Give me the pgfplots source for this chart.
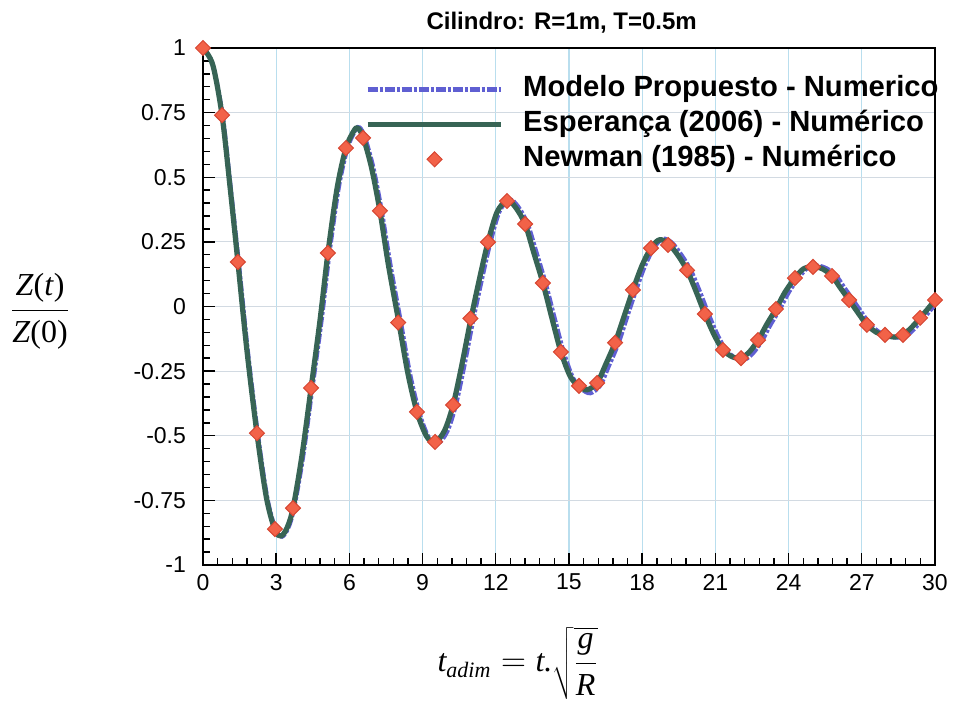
\documentclass[border=0pt]{standalone}
\usepackage{pgfplots}
\pgfplotsset{compat=1.18}
\usepackage{fontspec}
\setmainfont{Liberation Sans}
\newfontfamily\tnr{Liberation Serif}
\definecolor{greenline}{RGB}{55,100,85}
\definecolor{blueline}{RGB}{95,95,210}
\definecolor{mkfill}{RGB}{242,98,72}
\definecolor{mkdraw}{RGB}{215,70,50}
\definecolor{xgrid}{RGB}{185,222,238}
\definecolor{ygrid}{RGB}{210,218,226}
\pgfplotsset{
  lineleg/.style={legend image code/.code={\draw[##1] (0pt,0pt) -- (66.5pt,0pt);}},
  markleg/.style={legend image code/.code={\path (0pt,0pt) (66.5pt,0pt); \draw[##1] plot coordinates {(33.5pt,0pt)};}},
}
\begin{document}
\begin{tikzpicture}
\begin{axis}[
  width=366pt, height=258.5pt, scale only axis,
  xmin=0, xmax=30, ymin=-1, ymax=1,
  xtick={0,3,...,30},
  xticklabels={0,3,6,9,12,15,18,21,24,27,30},
  ytick={-1,-0.75,-0.5,-0.25,0,0.25,0.5,0.75,1},
  yticklabels={-1,-0.75,-0.5,-0.25,0,0.25,0.5,0.75,1},
  minor x tick num=4, minor y tick num=4,
  tick pos=left, tick align=inside,
  major tick length=6pt, minor tick length=3.5pt,
  every tick/.style={black, line width=0.7pt},
  axis line style={line width=0.9pt},
  grid=major,
  x grid style={xgrid, line width=0.6pt},
  y grid style={ygrid, line width=0.6pt},
  ticklabel style={font=\fontsize{11.5}{13}\selectfont},
  yticklabel style={xshift=-5pt},
  xticklabel style={yshift=-1pt},
  clip mode=individual,
  title={Cilindro: R=1m, T=0.5m},
  every axis title shift=0pt,
  title style={at={(axis description cs:0.49,1)}, anchor=base, yshift=9pt, font=\fontsize{12}{14}\selectfont\bfseries},
  ylabel={\tnr\fontsize{16}{19}\selectfont$\displaystyle\frac{\hbox{\itshape Z\/\upshape(\itshape t\/\upshape)}}{\hbox{\itshape Z\/\upshape(0)}}$},
  ylabel style={rotate=-90, at={(axis description cs:0,0.49)}, anchor=center, xshift=-81.5pt},
  xlabel={\tnr\fontsize{16}{19}\selectfont$\hbox{\itshape t}_{\hbox{\fontsize{11}{12}\selectfont\itshape adim}}=\hbox{\itshape t.}\sqrt{\displaystyle\frac{\hbox{\itshape g}}{\hbox{\itshape R}}}$},
  xlabel style={at={(axis description cs:0.43,0)}, anchor=base, yshift=-53.5pt},
  legend cell align=left,
  legend style={draw=none, fill=none, inner sep=0pt, outer sep=0pt,
    at={(axis cs:6.64,0.895)}, anchor=north west,
    row sep=3.3pt, column sep=10pt,
    font=\fontsize{14.6}{17}\selectfont\bfseries,
    nodes={inner sep=0pt, text height=10.7pt, text depth=3.5pt}},
]
\addplot[blueline, line width=2.2pt, smooth, dash pattern=on 5pt off 1pt on 1.5pt off 1pt, lineleg] coordinates {
(0,1.0) (0.4,0.935) (0.8,0.74) (1.12,0.47) (1.46,0.172) (1.83,-0.17) (2.24,-0.49)
(2.63,-0.74) (2.98,-0.865) (3.24,-0.89) (3.49,-0.857) (3.73,-0.78) (4.1,-0.58)
(4.48,-0.315) (4.86,-0.05) (5.18,0.207) (5.56,0.46) (5.92,0.613) (6.26,0.684)
(6.42,0.692) (6.63,0.655) (6.97,0.54) (7.32,0.37) (7.68,0.16) (8.11,-0.063)
(8.48,-0.26) (8.86,-0.41) (9.24,-0.505) (9.6,-0.532) (10.0,-0.485) (10.35,-0.385)
(10.7,-0.232) (11.08,-0.048) (11.45,0.115) (11.78,0.25) (12.15,0.368) (12.56,0.413)
(12.9,0.388) (13.3,0.32) (13.66,0.21) (14.04,0.09) (14.41,-0.046) (14.79,-0.18)
(15.17,-0.278) (15.53,-0.32) (15.88,-0.335) (16.28,-0.305) (16.63,-0.23) (17.02,-0.143)
(17.38,-0.04) (17.75,0.064) (18.13,0.162) (18.5,0.23) (18.84,0.262) (19.2,0.248)
(19.6,0.2) (19.99,0.14) (20.35,0.06) (20.72,-0.03) (21.1,-0.113) (21.46,-0.172)
(21.86,-0.2) (22.21,-0.205) (22.56,-0.178) (22.91,-0.132) (23.26,-0.07) (23.64,-0.01)
(24.01,0.056) (24.42,0.112) (24.76,0.148) (25.16,0.158) (25.56,0.147) (25.94,0.12)
(26.26,0.076) (26.64,0.025) (27.01,-0.026) (27.37,-0.073) (27.76,-0.102) (28.11,-0.115)
(28.51,-0.12) (28.85,-0.112) (29.21,-0.08) (29.55,-0.044) (29.85,-0.01) (30.0,0.005)
};
\addlegendentry{Modelo Propuesto - Numerico}
\addplot[greenline, line width=2.6pt, smooth, line join=round, lineleg] coordinates {
(0,1.0) (0.4,0.935) (0.78,0.74) (1.1,0.47) (1.43,0.172) (1.8,-0.17) (2.21,-0.49)
(2.6,-0.74) (2.95,-0.865) (3.2,-0.888) (3.45,-0.855) (3.69,-0.78) (4.05,-0.58)
(4.43,-0.315) (4.8,-0.05) (5.12,0.207) (5.5,0.46) (5.86,0.613) (6.2,0.682)
(6.35,0.69) (6.56,0.655) (6.9,0.54) (7.25,0.37) (7.6,0.16) (8.03,-0.063)
(8.4,-0.26) (8.77,-0.408) (9.15,-0.5) (9.5,-0.527) (9.9,-0.48) (10.25,-0.381)
(10.6,-0.23) (10.98,-0.048) (11.35,0.115) (11.68,0.249) (12.05,0.365) (12.46,0.41)
(12.8,0.385) (13.2,0.319) (13.55,0.21) (13.93,0.091) (14.3,-0.045) (14.67,-0.176)
(15.05,-0.27) (15.41,-0.31) (15.75,-0.322) (16.15,-0.296) (16.5,-0.225) (16.89,-0.14)
(17.25,-0.04) (17.62,0.064) (18.0,0.16) (18.36,0.226) (18.7,0.258) (19.06,0.245)
(19.45,0.2) (19.84,0.14) (20.2,0.06) (20.57,-0.029) (20.95,-0.11) (21.31,-0.168)
(21.7,-0.195) (22.05,-0.2) (22.4,-0.175) (22.75,-0.13) (23.1,-0.07) (23.48,-0.01)
(23.85,0.055) (24.26,0.11) (24.6,0.145) (25.0,0.155) (25.4,0.145) (25.78,0.118)
(26.1,0.075) (26.48,0.025) (26.85,-0.025) (27.21,-0.071) (27.6,-0.1) (27.95,-0.112)
(28.35,-0.118) (28.69,-0.11) (29.05,-0.08) (29.39,-0.044) (29.7,-0.01) (30.0,0.025)
};
\addlegendentry{Esperança (2006) - Numérico}
\addplot[only marks, mark=square*, mark size=2.65pt,
  mark options={rotate=45, fill=mkfill, draw=mkdraw, line width=0.5pt}, markleg] coordinates {
(0,1.0) (0.78,0.74) (1.43,0.172) (2.21,-0.49) (2.95,-0.861) (3.69,-0.78) (4.43,-0.315)
(5.12,0.207) (5.86,0.613) (6.56,0.652) (7.25,0.37) (8.0,-0.062) (8.77,-0.408)
(9.51,-0.524) (10.25,-0.381) (10.96,-0.046) (11.68,0.249) (12.46,0.408) (13.2,0.319)
(13.93,0.091) (14.67,-0.176) (15.41,-0.307) (16.15,-0.296) (16.89,-0.14) (17.62,0.064)
(18.36,0.226) (19.06,0.238) (19.84,0.14) (20.57,-0.029) (21.31,-0.168) (22.05,-0.2)
(22.75,-0.13) (23.48,-0.01) (24.26,0.11) (25.0,0.153) (25.78,0.118) (26.48,0.025)
(27.21,-0.071) (27.95,-0.11) (28.69,-0.11) (29.39,-0.044) (30.0,0.025)
};
\addlegendentry{Newman (1985) - Numérico}
\end{axis}
\pgfresetboundingbox
\path[use as bounding box] ([xshift=-101.5pt,yshift=-69.5pt]current axis.south west) rectangle ([xshift=9pt,yshift=24pt]current axis.north east);
\end{tikzpicture}
\end{document}
